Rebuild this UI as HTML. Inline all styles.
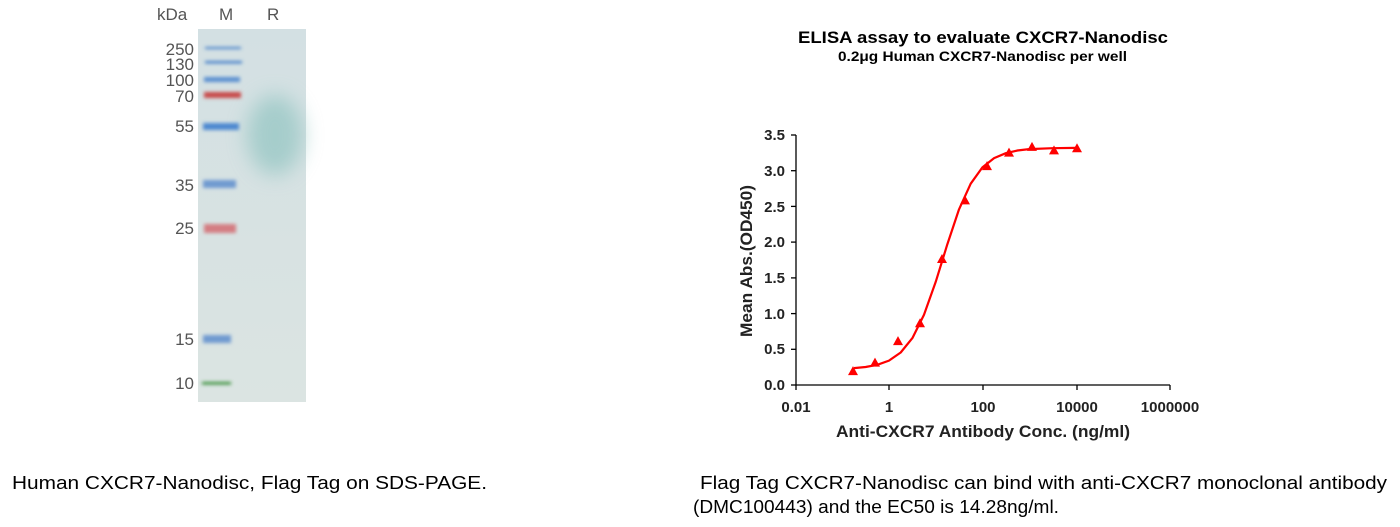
<!DOCTYPE html>
<html><head><meta charset="utf-8"><style>
body{margin:0;width:1400px;height:527px;background:#fff;overflow:hidden;font-family:"Liberation Sans",Arial,sans-serif;}
</style></head><body>
<svg width="1400" height="527" xmlns="http://www.w3.org/2000/svg" style="position:absolute;left:0;top:0">
<defs>
<filter id="bl" x="-20%" y="-50%" width="140%" height="200%"><feGaussianBlur stdDeviation="1.8"/></filter>
<filter id="bl2" x="-50%" y="-50%" width="200%" height="200%"><feGaussianBlur stdDeviation="10"/></filter>
<linearGradient id="gel" x1="0" y1="0" x2="0" y2="1"><stop offset="0" stop-color="#d3e0e3"/><stop offset="1" stop-color="#dbe4e2"/></linearGradient>
</defs>
<g font-family="Liberation Sans, sans-serif" font-size="17" fill="#555">
<text x="157" y="20">kDa</text><text x="219" y="20">M</text><text x="267" y="20">R</text>
<g text-anchor="end">
<text x="194" y="55">250</text><text x="194" y="70">130</text><text x="194" y="86">100</text><text x="194" y="102">70</text>
<text x="194" y="132">55</text><text x="194" y="191">35</text><text x="194" y="234">25</text><text x="194" y="345">15</text><text x="194" y="389">10</text>
</g></g>
<rect x="198" y="29" width="108" height="373" fill="url(#gel)"/>
<ellipse cx="275" cy="135" rx="28" ry="40" fill="#86c0bc" opacity="0.6" filter="url(#bl2)"/>
<g filter="url(#bl)">
<rect x="205" y="47" width="36" height="2" fill="#3f7cc8"/>
<rect x="205" y="61" width="37" height="2.5" fill="#3f7cc8"/>
<rect x="204" y="77" width="36" height="5" fill="#5a8fd0"/>
<rect x="204" y="92" width="37" height="6" fill="#c8484a"/>
<rect x="203" y="123" width="36" height="7" fill="#4d88d0"/>
<rect x="203" y="180" width="33" height="8" fill="#6f9ad0"/>
<rect x="204" y="224" width="32" height="9" fill="#d47d82"/>
<rect x="203" y="335" width="28" height="8" fill="#6f9ad0"/>
<rect x="202" y="382" width="29" height="2.5" fill="#2e8a2e"/>
</g>
<g font-family="Liberation Sans, Arial, sans-serif" font-weight="bold" fill="#000">
<text x="798" y="43" font-size="17" textLength="370" lengthAdjust="spacingAndGlyphs">ELISA assay to evaluate CXCR7-Nanodisc</text>
<text x="838" y="61" font-size="14" textLength="289" lengthAdjust="spacingAndGlyphs">0.2μg Human CXCR7-Nanodisc per well</text>
</g>
<g stroke="#000" stroke-width="1.3" fill="none">
<line x1="796" y1="135" x2="796" y2="385"/>
<line x1="796" y1="385" x2="1170" y2="385"/>
<line x1="791" y1="385" x2="796" y2="385"/><line x1="791" y1="349.3" x2="796" y2="349.3"/><line x1="791" y1="313.6" x2="796" y2="313.6"/><line x1="791" y1="277.9" x2="796" y2="277.9"/><line x1="791" y1="242.1" x2="796" y2="242.1"/><line x1="791" y1="206.4" x2="796" y2="206.4"/><line x1="791" y1="170.7" x2="796" y2="170.7"/><line x1="791" y1="135" x2="796" y2="135"/>
<line x1="796" y1="385" x2="796" y2="390"/><line x1="889" y1="385" x2="889" y2="390"/><line x1="983" y1="385" x2="983" y2="390"/><line x1="1077" y1="385" x2="1077" y2="390"/><line x1="1170" y1="385" x2="1170" y2="390"/>
</g>
<g font-family="Liberation Sans, Arial, sans-serif" font-weight="bold" font-size="15" fill="#222">
<g text-anchor="end">
<text x="785" y="390">0.0</text><text x="785" y="354">0.5</text><text x="785" y="319">1.0</text><text x="785" y="283">1.5</text><text x="785" y="247">2.0</text><text x="785" y="212">2.5</text><text x="785" y="176">3.0</text><text x="785" y="140">3.5</text>
</g>
<g text-anchor="middle">
<text x="796" y="412">0.01</text><text x="889" y="412">1</text><text x="983" y="412">100</text><text x="1077" y="412">10000</text><text x="1170" y="412">1000000</text>
</g>
<text x="836" y="437" font-size="17" textLength="294" lengthAdjust="spacingAndGlyphs">Anti-CXCR7 Antibody Conc. (ng/ml)</text>
<text transform="translate(752,337) rotate(-90)" font-size="17" textLength="152" lengthAdjust="spacingAndGlyphs">Mean Abs.(OD450)</text>
</g>
<path d="M854,368.1 L865.6,367 L877.3,364.8 L889,360.6 L900.7,352.5 L912.4,338.1 L924,314.7 L935.7,281.9 L947.4,244.1 L959,209.4 L970.7,183.7 L982.4,167.4 L994.1,158.1 L1005.8,153.2 L1017.4,150.5 L1029.1,149.1 L1052.5,148.2 L1075.8,147.9" fill="none" stroke="#f00" stroke-width="2.2" stroke-linejoin="round"/>
<g fill="#f00">
<path d="M853,366.1 l5,9 h-10z"/><path d="M875,357.6 l5,9 h-10z"/><path d="M898,336.1 l5,9 h-10z"/><path d="M920,318.3 l5,9 h-10z"/><path d="M942,254 l5,9 h-10z"/><path d="M965,195.4 l5,9 h-10z"/><path d="M987,161.1 l5,9 h-10z"/><path d="M1009,147.6 l5,9 h-10z"/><path d="M1032,141.9 l5,9 h-10z"/><path d="M1054,145.4 l5,9 h-10z"/><path d="M1077,143.3 l5,9 h-10z"/>
</g>
<g font-family="Liberation Sans, Arial, sans-serif" font-size="18" fill="#000">
<text x="12" y="489" textLength="475" lengthAdjust="spacingAndGlyphs">Human CXCR7-Nanodisc, Flag Tag on SDS-PAGE.</text>
<text x="700" y="489" textLength="687" lengthAdjust="spacingAndGlyphs">Flag Tag CXCR7-Nanodisc can bind with anti-CXCR7 monoclonal antibody</text>
<text x="693" y="513" textLength="366" lengthAdjust="spacingAndGlyphs">(DMC100443) and the EC50 is 14.28ng/ml.</text>
</g>
</svg>
</body></html>
